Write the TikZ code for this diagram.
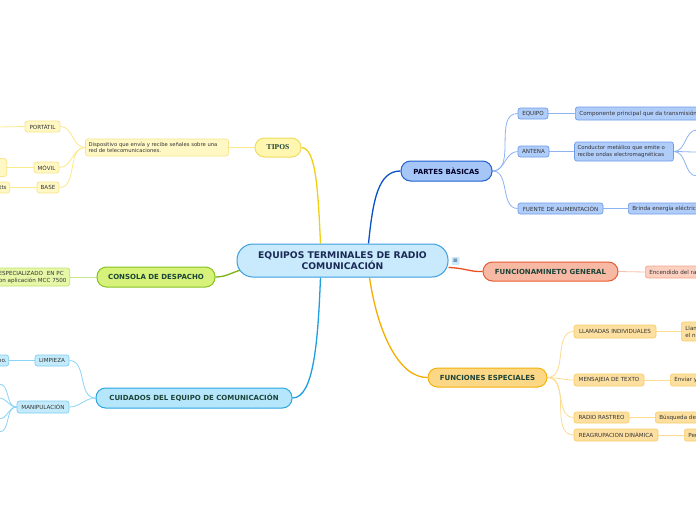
\documentclass[tikz,border=0pt]{standalone}
\usepackage{fontspec}
\usetikzlibrary{backgrounds}
\setmainfont{DejaVu Sans}
\newfontfamily\tiposfont{Liberation Serif}
\definecolor{centfill}{HTML}{C8EAFC}
\definecolor{centdraw}{HTML}{3A9EE0}
\definecolor{centtext}{HTML}{1B2A55}
\definecolor{brtext}{HTML}{1C4438}
\definecolor{lftext}{HTML}{333333}
\definecolor{ymain}{HTML}{F0D010}
\definecolor{yfill}{HTML}{FFF6B0}
\definecolor{ydraw}{HTML}{F0DC60}
\definecolor{ylfill}{HTML}{FFF8C4}
\definecolor{yldraw}{HTML}{F7E58A}
\definecolor{ylink}{HTML}{FBE98A}
\definecolor{gmain}{HTML}{7CB518}
\definecolor{gfill}{HTML}{D6F27A}
\definecolor{gdraw}{HTML}{86C320}
\definecolor{glfill}{HTML}{E6F8A8}
\definecolor{gldraw}{HTML}{C0E070}
\definecolor{glink}{HTML}{C8E890}
\definecolor{cmain}{HTML}{1EA0E0}
\definecolor{cfill}{HTML}{B5E6FB}
\definecolor{cdraw}{HTML}{2AA7E2}
\definecolor{clfill}{HTML}{C4EBFC}
\definecolor{cldraw}{HTML}{7DCDF2}
\definecolor{clink}{HTML}{8AD4F5}
\definecolor{bmain}{HTML}{0A52C8}
\definecolor{bfill}{HTML}{A6C6F8}
\definecolor{bdraw}{HTML}{1F5FD0}
\definecolor{blfill}{HTML}{B0CDFA}
\definecolor{bldraw}{HTML}{6F9CE8}
\definecolor{blink}{HTML}{8DB4F0}
\definecolor{smain}{HTML}{E8501E}
\definecolor{sfill}{HTML}{F8B9A4}
\definecolor{sdraw}{HTML}{E85A30}
\definecolor{slfill}{HTML}{FBD0C0}
\definecolor{sldraw}{HTML}{F4A88E}
\definecolor{slink}{HTML}{F7C0AE}
\definecolor{omain}{HTML}{F5AE00}
\definecolor{ofill}{HTML}{FCD785}
\definecolor{odraw}{HTML}{F4B20A}
\definecolor{olfill}{HTML}{FDE0A0}
\definecolor{oldraw}{HTML}{F9CD6A}
\definecolor{olink}{HTML}{FCDC90}
\begin{document}
\begin{tikzpicture}[x=1pt,y=-1pt,
  sz/.style 2 args={minimum width=#1pt, minimum height=#2pt},
  central/.style={rectangle, rounded corners=16pt, line width=1pt, inner sep=0pt,
    fill=centfill, draw=centdraw, text=centtext, align=center,
    font=\fontsize{9.2}{11}\selectfont\bfseries},
  branch/.style={rectangle, rounded corners=9.5pt, line width=1pt, inner sep=0pt,
    text=brtext, font=\fontsize{7}{8}\selectfont\bfseries},
  leaf/.style={rectangle, rounded corners=2.5pt, line width=0.7pt, inner sep=0pt,
    text=lftext, font=\fontsize{5.6}{7}\selectfont},
  yl/.style={leaf, fill=ylfill, draw=yldraw},
  gl/.style={leaf, fill=glfill, draw=gldraw},
  cl/.style={leaf, fill=clfill, draw=cldraw},
  bl/.style={leaf, fill=blfill, draw=bldraw},
  sl/.style={leaf, fill=slfill, draw=sldraw},
  ol/.style={leaf, fill=olfill, draw=oldraw},
  mainlink/.style={line width=1.3pt},
  sublink/.style={line width=0.8pt}
]
\useasboundingbox (0,0) rectangle (696,520);
\clip (0,0) rectangle (696,520);

% free ends
\coordinate (pl) at (-1,127);
\coordinate (m1) at (-1,384);
\coordinate (m2) at (-1,398);
\coordinate (m3) at (-1,419);
\coordinate (m4) at (-1,432);
\coordinate (a1) at (697,130);
\coordinate (a2) at (697,152);
\coordinate (a3) at (697,176);

% ---------- nodes ----------
\path
 node[central, sz={211}{33}] (cen) at (342.5,260.5) {EQUIPOS TERMINALES DE RADIO\\COMUNICACIÓN}
 node[branch, sz={46}{19}, fill=yfill, draw=ydraw, font=\tiposfont\fontsize{7.5}{8}\selectfont\bfseries] (tipos) at (278,147.5) {TIPOS}
 node[yl, sz={142}{17}, align=left, text width=137pt, inner xsep=3pt, font=\fontsize{5.25}{6.8}\selectfont] (disp) at (157,147.5) {Dispositivo que envía y recibe señales sobre una\\red de telecomunicaciones.}
 node[yl, sz={35}{11}] (port) at (42.5,126.5) {PORTÁTIL}
 node[yl, sz={25}{11}] (movil) at (46.5,167.5) {MÓVIL}
 node[yl, sz={22}{11}] (base) at (48,187.5) {BASE}
 node[yl, sz={60}{18}, anchor=east] (movl) at (7,167.5) {}
 node[yl, minimum height=11pt, inner xsep=3pt, anchor=east] (basel) at (10,187.5) {watts}
 node[branch, sz={118}{20}, fill=gfill, draw=gdraw] (cons) at (156,277) {CONSOLA DE DESPACHO}
 node[gl, minimum height=18pt, text width=77pt, align=center, anchor=east] (consl) at (70,277) {ESPECIALIZADO \ EN PC\\con aplicación MCC 7500}
 node[branch, sz={196}{20}, fill=cfill, draw=cdraw] (cuid) at (194,398) {CUIDADOS DEL EQUIPO DE COMUNICACIÓN}
 node[cl, sz={34}{11}] (limp) at (52,360.5) {LIMPIEZA}
 node[cl, minimum height=11pt, inner xsep=2pt, anchor=east] (limpl) at (9,360.5) {equipo.}
 node[cl, sz={52}{12}] (manip) at (43,407) {MANIPULACIÓN}
 node[branch, sz={91}{20}, fill=bfill, draw=bdraw, text=black!85!blue] (partes) at (446.5,171) {PARTES BÀSICAS}
 node[bl, sz={30}{11}] (equipo) at (533,113.5) {EQUIPO}
 node[bl, sz={31}{11}] (antena) at (533.5,151.5) {ANTENA}
 node[bl, sz={85}{11}] (fuente) at (560.5,208.5) {FUENTE DE ALIMENTACIÓN}
 node[bl, minimum height=13pt, inner xsep=4pt, anchor=west] (comp) at (575,113.5) {Componente principal que da transmisión}
 node[bl, sz={98}{19}, align=left, text width=93pt, inner xsep=3pt, font=\fontsize{5.4}{6.8}\selectfont] (cond) at (624,151.5) {Conductor metálico que emite o\\recibe ondas electromagnéticas}
 node[bl, minimum height=11pt, inner xsep=4pt, anchor=west] (brinda) at (628,208.5) {Brinda energía eléctrica}
 node[branch, sz={135}{19}, fill=sfill, draw=sdraw] (fgen) at (550.5,271.5) {FUNCIONAMINETO GENERAL}
 node[sl, minimum height=12pt, inner xsep=4pt, anchor=west] (enc) at (645,272) {Encendido del radio}
 node[branch, sz={119}{19}, fill=ofill, draw=odraw] (func) at (487.5,377.5) {FUNCIONES ESPECIALES}
 node[ol, sz={82}{13}] (llam) at (615,331.5) {LLAMADAS INDIVIDUALES}
 node[ol, minimum height=19pt, inner xsep=4pt, align=left, anchor=west] (llamr) at (681,331.5) {Llamadas\\el número}
 node[ol, sz={70}{12}] (mens) at (609,380) {MENSAJEIA DE TEXTO}
 node[ol, minimum height=12pt, inner xsep=4pt, anchor=west] (env) at (670,380) {Enviar y}
 node[ol, sz={55}{11}] (rast) at (601.5,417.5) {RADIO RASTREO}
 node[ol, minimum height=11pt, inner xsep=4pt, anchor=west] (busq) at (655,417.5) {Búsqueda de}
 node[ol, sz={84}{12}] (reag) at (616,435) {REAGRUPACION DINÁMICA}
 node[ol, minimum height=12pt, inner xsep=4pt, anchor=west] (pe) at (684,435) {Permite}
 node[rectangle, sz={8}{8}, inner sep=0pt, fill=centfill, rounded corners=1pt, text=centtext,
   font=\fontsize{6}{6}\selectfont] (icon) at (455.5,261) {≡};

\begin{pgfonlayer}{background}
\fill[white] (0,0) rectangle (696,520);
% main connectors
\draw[ymain, mainlink] ([xshift=-22pt]cen.north) .. controls (318,190) and (316,148) .. (tipos.east);
\draw[bmain, mainlink] ([xshift=26pt]cen.north) .. controls (373,200) and (378,171) .. (partes.west);
\draw[gmain, mainlink] ([xshift=6pt,yshift=-9pt]cen.west) .. controls (230,273) and (226,277) .. (cons.east);
\draw[cmain, mainlink] ([xshift=-22pt]cen.south) .. controls (318,340) and (314,398) .. (cuid.east);
\draw[omain, mainlink] ([xshift=27pt]cen.south) .. controls (378,335) and (400,378) .. (func.west);
\draw[smain, mainlink] ([yshift=-7pt]cen.east) .. controls (465,268) and (470,272) .. (fgen.west);
% yellow
\draw[ylink, sublink] (tipos.west) -- (disp.east);
\draw[ylink, sublink] (disp.west) to[out=180,in=0] (port.east);
\draw[ylink, sublink] (disp.west) to[out=180,in=0] (movil.east);
\draw[ylink, sublink] (disp.west) to[out=180,in=0] (base.east);
\draw[ylink, sublink] (port.west) -- (pl);
\draw[ylink, sublink] (movil.west) -- (movl.east);
\draw[ylink, sublink] (base.west) -- (basel.east);
% green
\draw[glink, sublink] (cons.west) -- (consl.east);
% cyan
\draw[clink, sublink] (cuid.west) to[out=180,in=0] (limp.east);
\draw[clink, sublink] (cuid.west) to[out=180,in=0] (manip.east);
\draw[clink, sublink] (limp.west) -- (limpl.east);
\foreach \m in {m1,m2,m3,m4}
  \draw[clink, sublink] (manip.west) to[out=180,in=0] (\m);
% blue
\draw[blink, sublink] (partes.east) to[out=0,in=180] (equipo.west);
\draw[blink, sublink] (partes.east) to[out=0,in=180] (antena.west);
\draw[blink, sublink] (partes.east) to[out=0,in=180] (fuente.west);
\draw[blink, sublink] (equipo.east) -- (comp.west);
\draw[blink, sublink] (antena.east) -- (cond.west);
\draw[blink, sublink] (fuente.east) -- (brinda.west);
\foreach \a in {a1,a2,a3}
  \draw[blink, sublink] (cond.east) to[out=0,in=180] (\a);
% salmon
\draw[slink, sublink] (fgen.east) -- (enc.west);
% orange
\draw[olink, sublink] (func.east) to[out=0,in=180] (llam.west);
\draw[olink, sublink] (func.east) to[out=0,in=180] (mens.west);
\draw[olink, sublink] (func.east) to[out=0,in=180] (rast.west);
\draw[olink, sublink] (func.east) to[out=0,in=180] (reag.west);
\draw[olink, sublink] (llam.east) -- (llamr.west);
\draw[olink, sublink] (mens.east) -- (env.west);
\draw[olink, sublink] (rast.east) -- (busq.west);
\draw[olink, sublink] (reag.east) -- (pe.west);
\end{pgfonlayer}
\end{tikzpicture}
\end{document}
